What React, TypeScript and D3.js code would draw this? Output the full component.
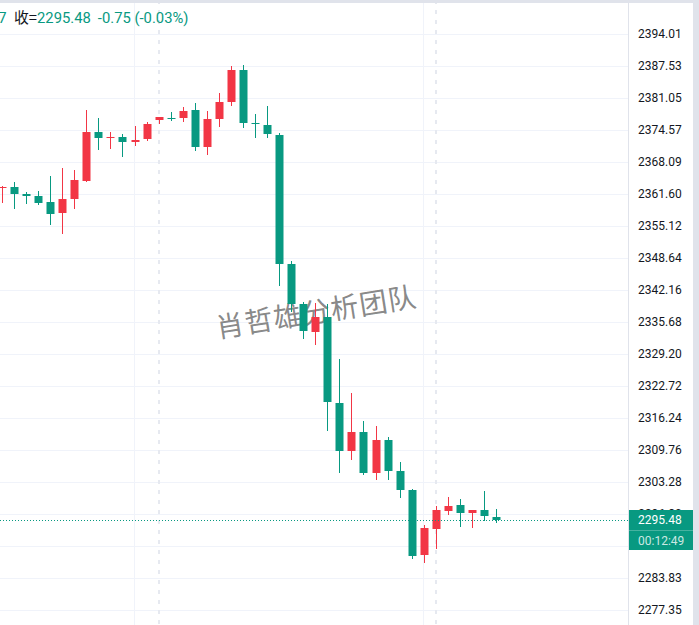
import React, { useEffect } from 'react';
import * as d3 from 'd3';

// ---- data ----
const opens = [2362.82, 2363.02, 2361.6, 2361.2, 2359.98, 2357.75, 2360.59, 2364.24, 2374.16, 2372.95, 2373.15, 2372.14, 2372.75, 2376.59, 2377.0, 2377.0, 2378.62, 2371.12, 2376.79, 2380.24, 2386.72, 2375.98, 2375.58, 2373.55, 2347.43, 2339.32, 2333.65, 2336.69, 2319.27, 2309.55, 2313.4, 2305.09, 2311.77, 2305.49, 2301.65, 2288.48, 2293.75, 2297.39, 2298.61, 2296.99, 2297.6, 2296.23];
const highs = [2363.22, 2364.03, 2362.01, 2362.21, 2365.25, 2366.87, 2366.46, 2378.62, 2377.0, 2374.16, 2373.76, 2375.37, 2376.19, 2377.3, 2378.21, 2379.22, 2380.03, 2378.41, 2382.06, 2387.53, 2387.74, 2377.8, 2379.43, 2373.96, 2348.03, 2339.72, 2339.52, 2339.32, 2328.18, 2321.3, 2315.62, 2314.61, 2312.38, 2307.32, 2301.85, 2294.56, 2298.41, 2300.23, 2299.83, 2297.6, 2301.44, 2297.8];
const lows = [2359.78, 2358.56, 2359.58, 2359.37, 2355.32, 2353.5, 2358.56, 2364.04, 2370.51, 2370.72, 2369.1, 2371.32, 2372.34, 2375.79, 2376.39, 2376.19, 2370.31, 2369.5, 2375.17, 2379.43, 2374.97, 2372.95, 2372.95, 2342.97, 2337.69, 2332.23, 2331.02, 2313.6, 2305.09, 2307.72, 2304.69, 2303.67, 2303.67, 2300.03, 2287.67, 2286.86, 2289.7, 2296.58, 2294.15, 2293.95, 2295.37, 2294.97];
const closes = [2363.02, 2361.6, 2361.2, 2359.78, 2357.55, 2360.59, 2364.44, 2374.16, 2372.95, 2373.15, 2372.14, 2372.54, 2375.79, 2377.2, 2376.9, 2378.41, 2371.12, 2376.79, 2380.24, 2386.72, 2375.98, 2375.88, 2373.76, 2347.43, 2339.32, 2333.85, 2336.69, 2319.47, 2309.55, 2313.4, 2305.09, 2311.77, 2305.49, 2301.65, 2288.28, 2293.95, 2297.6, 2298.41, 2296.99, 2297.6, 2296.38, 2295.48];

const priceTicks = ['2394.01', '2387.53', '2381.05', '2374.57', '2368.09', '2361.60', '2355.12', '2348.64', '2342.16', '2335.68', '2329.20', '2322.72', '2316.24', '2309.76', '2303.28', '2296.80', '2290.32', '2283.83', '2277.35'];
const solidGridIdx = [11, 35];
const dashedGridIdx = [13, 36];

const lastPrice = 2295.48;
const lastPriceText = '2295.48';
const countdownText = '00:12:49';
const legendHidden = [['开=', '2296.23'], ['高=', '2297.80'], ['低=', '2294.97']];
const legendClose = ['收=', '2295.48', '-0.75 (-0.03%)'];
const watermark = '肖哲雄分析团队';

// ---- styles ----
const W = 699;
const H = 625;
const paneRight = 628;
const UP = '#f23645';
const DOWN = '#089981';
const GRID = '#f0f3fa';
const TEXT = '#131722';
const FONT = 'Roboto, "Noto Sans", sans-serif';

export default function App() {
  useEffect(() => {
    document.body.style.margin = '0';
  }, []);

  const y = d3
    .scaleLinear()
    .domain([+priceTicks[0], +priceTicks[priceTicks.length - 1]])
    .range([34, 610]);
  const x = d3.scaleLinear().domain([0, opens.length - 1]).range([2, 496]);
  const bodyW = 8;

  const px = (v: number) => Math.round(v) + 0.5;

  return (
    <svg
      width={W}
      height={H}
      style={{ position: 'absolute', left: 0, top: 0, display: 'block', background: '#fff' }}
      fontFamily={FONT}
    >
      <defs>
        <clipPath id="pane">
          <rect x={0} y={0} width={paneRight} height={H} />
        </clipPath>
      </defs>
      <rect x={0} y={0} width={W} height={H} fill="#fff" />

      {/* grid */}
      <g clipPath="url(#pane)">
        {priceTicks.map((t) => (
          <line key={t} x1={0} x2={paneRight} y1={px(y(+t))} y2={px(y(+t))} stroke={GRID} strokeWidth={1} />
        ))}
        {solidGridIdx.map((i) => (
          <line key={'s' + i} x1={Math.round(x(i)) - 0.5} x2={Math.round(x(i)) - 0.5} y1={0} y2={H} stroke={GRID} strokeWidth={1} />
        ))}
        {dashedGridIdx.map((i) => (
          <line key={'d' + i} x1={Math.round(x(i))} x2={Math.round(x(i))} y1={0} y2={H} stroke="#e6e9f0" strokeWidth={2} strokeDasharray="4 6" />
        ))}
      </g>

      {/* watermark */}
      <text
        x={318}
        y={322}
        transform="rotate(-9 318 322)"
        textAnchor="middle"
        fontSize={28}
        fontFamily='"Noto Sans CJK SC", sans-serif'
        fill="#7a7a7a"
        fillOpacity={0.9}
        letterSpacing={1}
      >
        {watermark}
      </text>

      {/* candles */}
      <g clipPath="url(#pane)">
        {opens.map((o, i) => {
          const c = closes[i];
          const color = c >= o ? UP : DOWN;
          const cx = Math.round(x(i));
          const top = Math.round(y(Math.max(o, c)));
          const bot = Math.round(y(Math.min(o, c)));
          const h = Math.max(1, bot - top);
          return (
            <g key={i}>
              <line x1={cx + 0.5} x2={cx + 0.5} y1={Math.round(y(highs[i]))} y2={Math.round(y(lows[i]))} stroke={color} strokeWidth={1} />
              <rect x={cx - bodyW / 2 + 0.5} y={top} width={bodyW} height={h} fill={color} />
            </g>
          );
        })}
      </g>

      {/* last price line */}
      <line
        x1={0}
        x2={paneRight}
        y1={px(y(lastPrice))}
        y2={px(y(lastPrice))}
        stroke={DOWN}
        strokeWidth={1}
        strokeDasharray="1 2"
      />

      {/* legend */}
      <text x={6.5} y={23} fontSize={14.8} textAnchor="end">
        {legendHidden.map(([k, v]) => (
          <React.Fragment key={k}>
            <tspan fill={TEXT}>{k}</tspan>
            <tspan fill={DOWN}>{v + ' '}</tspan>
          </React.Fragment>
        ))}
      </text>
      <text x={14} y={23} fontSize={14.8}>
        <tspan fill={TEXT} fontFamily='"Noto Sans CJK SC", sans-serif'>{legendClose[0]}</tspan>
        <tspan fill={DOWN}>{legendClose[1]}</tspan>
        <tspan fill={DOWN} dx={7}>{legendClose[2]}</tspan>
      </text>

      {/* price axis */}
      <rect x={paneRight} y={0} width={W - paneRight} height={H} fill="#fff" />
      <line x1={paneRight + 0.5} x2={paneRight + 0.5} y1={0} y2={H} stroke="#e0e3eb" strokeWidth={1} />
      {priceTicks.map((t) => (
        <text key={t} x={638} y={y(+t)} dy="0.36em" fontSize={12} fill={TEXT}>
          {t}
        </text>
      ))}

      {/* last price label + countdown */}
      <rect x={paneRight + 1} y={510} width={693 - paneRight - 1} height={40} fill={DOWN} />
      <line x1={paneRight + 1} x2={693} y1={530.5} y2={530.5} stroke="#ffffff" strokeOpacity={0.25} />
      <text x={638} y={520} dy="0.36em" fontSize={12} fill="#fff">
        {lastPriceText}
      </text>
      <text x={638} y={540.5} dy="0.36em" fontSize={12} fill="#fff" fillOpacity={0.8}>
        {countdownText}
      </text>

      {/* frame */}
      <rect x={0} y={0} width={W} height={3} fill="#e0e3eb" />
      <rect x={693} y={0} width={6} height={H} fill="#e0e3eb" />
    </svg>
  );
}
